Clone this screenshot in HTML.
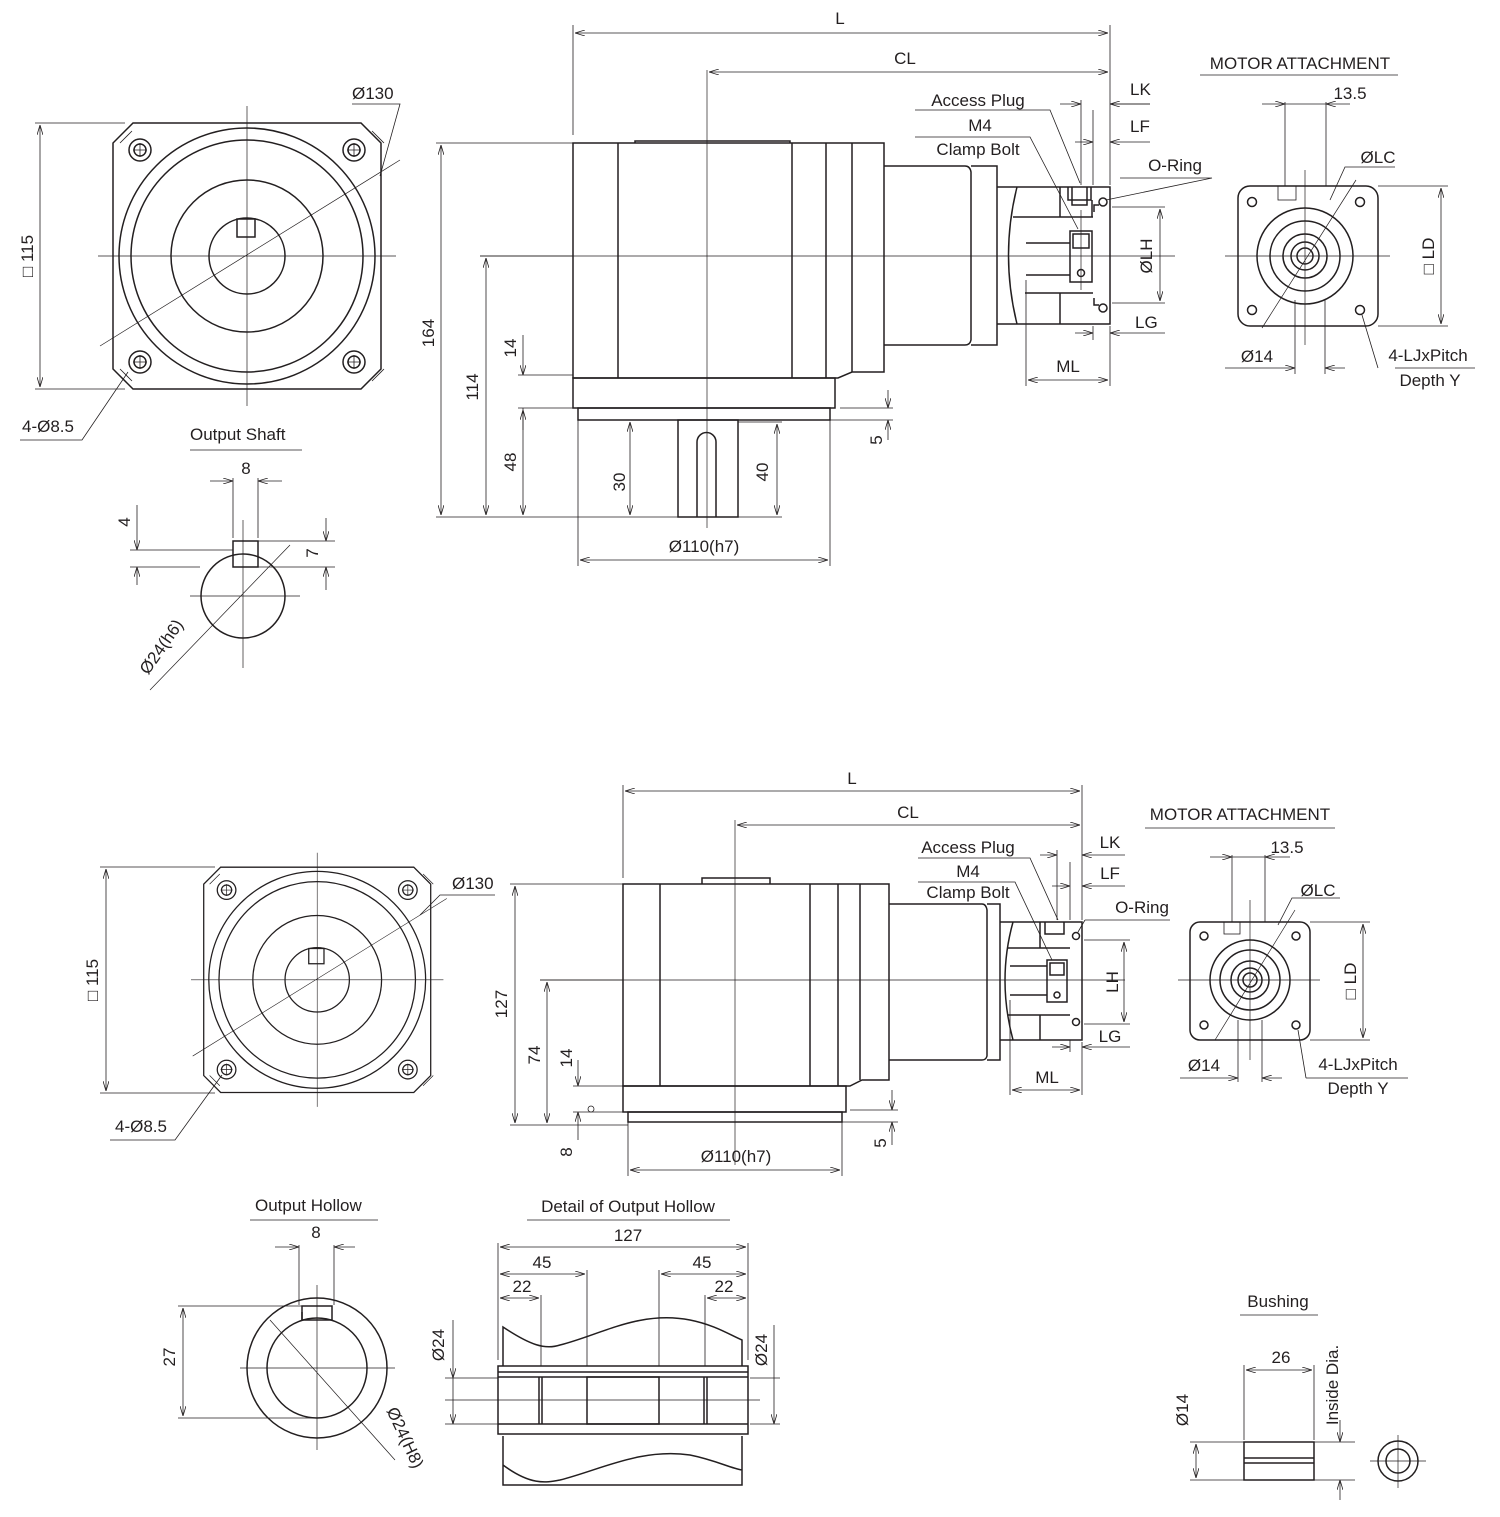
<!DOCTYPE html>
<html><head><meta charset="utf-8"><style>
html,body{margin:0;padding:0;background:#fff}
svg{display:block}
text{font-family:"Liberation Sans",sans-serif;font-size:17px;fill:#231f20}
.s{stroke:#231f20;stroke-width:1.5;fill:none}
.t{stroke:#231f20;stroke-width:0.8;fill:none}
.c{stroke:#231f20;stroke-width:0.7;fill:none}
</style></head><body>
<svg width="1500" height="1517" viewBox="0 0 1500 1517" xmlns="http://www.w3.org/2000/svg">
<defs>
<marker id="a" viewBox="0 0 10 6" refX="10" refY="3" markerWidth="10" markerHeight="6" orient="auto-start-reverse" markerUnits="userSpaceOnUse"><path d="M0,0 L10,3 L0,6" fill="none" stroke="#231f20" stroke-width="0.8"/></marker>
<g id="front">
<path class="s" d="M133,123 H361 L381,143 V369 L361,389 H133 L113,369 V143 Z"/>
<circle class="s" cx="247" cy="256" r="128"/>
<circle class="s" cx="247" cy="256" r="116"/>
<circle class="s" cx="247" cy="256" r="76"/>
<circle class="s" cx="247" cy="256" r="38"/>
<rect class="s" x="237" y="219" width="18" height="18"/>
<g class="s">
<circle cx="140" cy="150" r="11"/><circle cx="354" cy="150" r="11"/><circle cx="140" cy="362" r="11"/><circle cx="354" cy="362" r="11"/>
<circle cx="140" cy="150" r="6"/><circle cx="354" cy="150" r="6"/><circle cx="140" cy="362" r="6"/><circle cx="354" cy="362" r="6"/>
</g>
<path class="t" d="M133,150 L147,150 M140,143 V157 M347,150 H361 M354,143 V157 M133,362 H147 M140,355 V369 M347,362 H361 M354,355 V369"/>
<path class="t" d="M120,143 L132,131 M372,131 L384,143 M120,369 L132,381 M372,381 L384,369"/>
<path class="c" d="M98,256 H396 M247,106 V406 M100,346 L400,160"/>
</g>
</defs>

<!-- ============ TOP FRONT VIEW ============ -->
<use href="#front"/>
<path class="t" d="M35,123 H125 M35,389 H125" />
<line class="t" x1="40" y1="125" x2="40" y2="387" marker-start="url(#a)" marker-end="url(#a)"/>
<text transform="translate(33,256) rotate(-90)" text-anchor="middle">□ 115</text>
<path class="t" d="M352,104 H400 L380,176"/>
<text x="352" y="99">Ø130</text>
<path class="t" d="M20,440 H82 L128,372"/>
<text x="22" y="432">4-Ø8.5</text>

<!-- Output shaft -->
<text x="190" y="440">Output Shaft</text>
<line class="t" x1="190" y1="450" x2="302" y2="450"/>
<circle class="s" cx="243" cy="596" r="42"/>
<rect class="s" x="233" y="541" width="25" height="26"/>
<path class="c" d="M243,520 V668 M190,596 H300 M150,690 L290,545"/>
<path class="t" d="M233,478 V538 M258,478 V538"/>
<line class="t" x1="210" y1="481" x2="233" y2="481" marker-end="url(#a)"/><line class="t" x1="282" y1="481" x2="258" y2="481" marker-end="url(#a)"/>
<text x="246" y="474" text-anchor="middle">8</text>
<path class="t" d="M130,550 H233 M130,567 H200 M258,567 H335 M258,541 H335"/>
<line class="t" x1="137" y1="505" x2="137" y2="550" marker-end="url(#a)"/><line class="t" x1="137" y1="585" x2="137" y2="567" marker-end="url(#a)"/>
<text transform="translate(130,522) rotate(-90)" text-anchor="middle">4</text>
<line class="t" x1="326" y1="518" x2="326" y2="541" marker-end="url(#a)"/><line class="t" x1="326" y1="590" x2="326" y2="567" marker-end="url(#a)"/>
<text transform="translate(318,553) rotate(-90)" text-anchor="middle">7</text>
<text transform="translate(166,650) rotate(-55)" text-anchor="middle">Ø24(h6)</text>

<!-- ============ TOP SIDE VIEW ============ -->
<path class="s" d="M573,143 H884 V372 H852 L838,378 H573 Z"/>
<path class="s" d="M618,143 V378 M792,143 V378 M826,143 V378 M852,143 V372 M635,143 V141 H790 V143"/>
<rect class="s" x="573" y="378" width="262" height="30"/>
<rect class="s" x="578" y="408" width="252" height="12"/>
<rect class="s" x="678" y="420" width="60" height="97"/>
<path class="s" d="M697,517 V442 A9.5,9.5 0 0 1 716,442 V517"/>
<path class="s" d="M884,166 H965 Q970,166 971,172 V340 Q970,345 965,345 H884"/>
<path class="s" d="M971,166 H997 V345 H971"/>
<path class="s" d="M997,187 H1110 V324 H997 M1017,187 Q1000,255 1017,324"/>
<path class="s" d="M1013,217 H1093 M1060,187 V217 M1068,187 V200 H1091 V187 M1072,187 V205 H1087 V187"/>
<rect class="s" x="1070" y="231" width="22" height="51"/>
<rect class="s" x="1073" y="234" width="16" height="14"/>
<circle class="s" cx="1081" cy="273" r="3.5"/>
<path class="s" d="M1026,243 H1070 M1026,275 H1070 M1025,293 H1093 M1060,293 V324 M1092,200 V217"/>
<circle class="s" cx="1103" cy="202" r="4"/><circle class="s" cx="1103" cy="308" r="4"/>
<path class="s" d="M1094,212 V205 H1099 M1094,298 V305 H1099"/>
<!-- centerlines -->
<path class="c" d="M707,70 V528 M480,256 H1175 M1081,210 V290"/>
<!-- dims -->
<path class="t" d="M573,25 V135 M1110,25 V185"/>
<line class="t" x1="575" y1="33" x2="1108" y2="33" marker-start="url(#a)" marker-end="url(#a)"/>
<text x="840" y="24" text-anchor="middle">L</text>
<line class="t" x1="709" y1="72" x2="1108" y2="72" marker-start="url(#a)" marker-end="url(#a)"/>
<text x="905" y="64" text-anchor="middle">CL</text>
<path class="t" d="M1081,100 V185 M1093,110 V185"/>
<line class="t" x1="1060" y1="104" x2="1081" y2="104" marker-end="url(#a)"/><line class="t" x1="1150" y1="104" x2="1110" y2="104" marker-end="url(#a)"/>
<line class="t" x1="1110" y1="104" x2="1150" y2="104"/>
<text x="1130" y="95">LK</text>
<line class="t" x1="1075" y1="142" x2="1093" y2="142" marker-end="url(#a)"/><line class="t" x1="1150" y1="142" x2="1110" y2="142" marker-end="url(#a)"/>
<text x="1130" y="132">LF</text>
<path class="t" d="M1112,207 H1165 M1112,303 H1165"/>
<line class="t" x1="1160" y1="209" x2="1160" y2="301" marker-start="url(#a)" marker-end="url(#a)"/>
<text transform="translate(1152,256) rotate(-90)" text-anchor="middle">ØLH</text>
<path class="t" d="M1093,326 V340"/>
<line class="t" x1="1075" y1="333" x2="1093" y2="333" marker-end="url(#a)"/><line class="t" x1="1165" y1="333" x2="1110" y2="333" marker-end="url(#a)"/>
<text x="1135" y="328">LG</text>
<path class="t" d="M1026,280 V386 M1110,326 V386"/>
<line class="t" x1="1028" y1="380" x2="1108" y2="380" marker-start="url(#a)" marker-end="url(#a)"/>
<text x="1068" y="372" text-anchor="middle">ML</text>
<path class="t" d="M915,110 H1050 L1080,183 M915,137 H1030 L1078,229 M1120,178 H1212 L1106,200"/>
<text x="978" y="106" text-anchor="middle">Access Plug</text>
<text x="980" y="131" text-anchor="middle">M4</text>
<text x="978" y="155" text-anchor="middle">Clamp Bolt</text>
<text x="1175" y="171" text-anchor="middle">O-Ring</text>
<!-- left dims -->
<path class="t" d="M436,143 H632 M436,517 H678 M480,256 H573 M518,375 H573 M518,408 H573"/>
<line class="t" x1="441" y1="145" x2="441" y2="515" marker-start="url(#a)" marker-end="url(#a)"/>
<text transform="translate(434,333) rotate(-90)" text-anchor="middle">164</text>
<line class="t" x1="486" y1="258" x2="486" y2="515" marker-start="url(#a)" marker-end="url(#a)"/>
<text transform="translate(478,387) rotate(-90)" text-anchor="middle">114</text>
<line class="t" x1="523" y1="410" x2="523" y2="515" marker-start="url(#a)" marker-end="url(#a)"/>
<text transform="translate(516,462) rotate(-90)" text-anchor="middle">48</text>
<line class="t" x1="523" y1="335" x2="523" y2="375" marker-end="url(#a)"/><line class="t" x1="523" y1="430" x2="523" y2="408"/>
<text transform="translate(516,348) rotate(-90)" text-anchor="middle">14</text>
<line class="t" x1="630" y1="422" x2="630" y2="515" marker-start="url(#a)" marker-end="url(#a)"/>
<path class="t" d="M625,420 H678 M738,422 H782 M738,517 H782"/>
<text transform="translate(625,482) rotate(-90)" text-anchor="middle">30</text>
<line class="t" x1="777" y1="424" x2="777" y2="515" marker-start="url(#a)" marker-end="url(#a)"/>
<text transform="translate(768,472) rotate(-90)" text-anchor="middle">40</text>
<path class="t" d="M578,420 V566 M830,420 V566 M840,408 H893 M830,420 H893"/>
<line class="t" x1="580" y1="560" x2="828" y2="560" marker-start="url(#a)" marker-end="url(#a)"/>
<text x="704" y="552" text-anchor="middle">Ø110(h7)</text>
<line class="t" x1="888" y1="390" x2="888" y2="408" marker-end="url(#a)"/><line class="t" x1="888" y1="440" x2="888" y2="420" marker-end="url(#a)"/>
<text transform="translate(882,440) rotate(-90)" text-anchor="middle">5</text>

<!-- Motor attachment top -->
<text x="1300" y="69" text-anchor="middle">MOTOR ATTACHMENT</text>
<line class="t" x1="1200" y1="75" x2="1398" y2="75"/>
<rect class="s" x="1238" y="186" width="140" height="140" rx="12"/>
<g class="s"><circle cx="1252" cy="202" r="4.5"/><circle cx="1360" cy="202" r="4.5"/><circle cx="1252" cy="310" r="4.5"/><circle cx="1360" cy="310" r="4.5"/>
<circle cx="1305" cy="256" r="48"/><circle cx="1305" cy="256" r="35"/><circle cx="1305" cy="256" r="22"/><circle cx="1305" cy="256" r="14"/><circle cx="1305" cy="256" r="8"/></g>
<rect class="t" x="1278" y="186" width="18" height="14"/>
<path class="c" d="M1305,170 V345 M1225,256 H1390 M1262,328 L1356,180"/>
<path class="t" d="M1285,102 V186 M1326,102 V186"/>
<line class="t" x1="1262" y1="104" x2="1285" y2="104" marker-end="url(#a)"/><line class="t" x1="1350" y1="104" x2="1326" y2="104" marker-end="url(#a)"/>
<line class="t" x1="1285" y1="104" x2="1326" y2="104"/>
<text x="1350" y="99" text-anchor="middle">13.5</text>
<path class="t" d="M1378,186 H1448 M1378,326 H1448"/>
<line class="t" x1="1441" y1="188" x2="1441" y2="324" marker-start="url(#a)" marker-end="url(#a)"/>
<text transform="translate(1434,256) rotate(-90)" text-anchor="middle">□ LD</text>
<path class="t" d="M1395,167 H1345 L1330,200"/>
<text x="1378" y="163" text-anchor="middle">ØLC</text>
<path class="t" d="M1295,300 V374 M1325,300 V374"/>
<line class="t" x1="1275" y1="368" x2="1295" y2="368" marker-end="url(#a)"/><line class="t" x1="1345" y1="368" x2="1325" y2="368" marker-end="url(#a)"/>
<line class="t" x1="1225" y1="368" x2="1275" y2="368"/>
<text x="1257" y="362" text-anchor="middle">Ø14</text>
<path class="t" d="M1395,368 H1475 M1378,368 L1362,315"/>
<text x="1428" y="361" text-anchor="middle">4-LJxPitch</text>
<text x="1430" y="386" text-anchor="middle">Depth Y</text>

<!-- ============ BOTTOM FRONT VIEW ============ -->
<use href="#front" transform="translate(108,763) scale(0.847)"/>
<path class="t" d="M100,867 H215 M100,1093 H215"/>
<line class="t" x1="106" y1="869" x2="106" y2="1091" marker-start="url(#a)" marker-end="url(#a)"/>
<text transform="translate(98,980) rotate(-90)" text-anchor="middle">□ 115</text>
<path class="t" d="M420,915 L440,895 H495"/>
<text x="452" y="889">Ø130</text>
<path class="t" d="M110,1140 H175 L222,1075"/>
<text x="115" y="1132">4-Ø8.5</text>

<!-- Output Hollow -->
<text x="255" y="1211">Output Hollow</text>
<line class="t" x1="250" y1="1220" x2="378" y2="1220"/>
<circle class="s" cx="317" cy="1368" r="70"/>
<circle class="s" cx="317" cy="1368" r="50"/>
<rect class="s" x="302" y="1306" width="30" height="14" fill="#fff"/>
<path class="s" d="M302,1320 V1312"/>
<path class="c" d="M317,1285 V1450 M240,1368 H395 M270,1320 L395,1460"/>
<path class="t" d="M299,1245 V1305 M334,1245 V1305"/>
<line class="t" x1="275" y1="1247" x2="299" y2="1247" marker-end="url(#a)"/><line class="t" x1="355" y1="1247" x2="334" y2="1247" marker-end="url(#a)"/>
<text x="316" y="1238" text-anchor="middle">8</text>
<path class="t" d="M178,1306 H302 M178,1418 H317"/>
<line class="t" x1="183" y1="1308" x2="183" y2="1416" marker-start="url(#a)" marker-end="url(#a)"/>
<text transform="translate(175,1357) rotate(-90)" text-anchor="middle">27</text>
<text transform="translate(400,1440) rotate(65)" text-anchor="middle">Ø24(H8)</text>

<!-- Detail of Output Hollow -->
<text x="628" y="1212" text-anchor="middle">Detail of Output Hollow</text>
<line class="t" x1="527" y1="1220" x2="730" y2="1220"/>
<path class="s" d="M498,1366 H748 V1434 H498 Z M498,1372 H748 M498,1377 H748 M498,1424 H748"/>
<rect class="s" x="587" y="1377" width="72" height="47"/>
<path class="s" d="M539,1377 V1424 M542,1377 V1424 M704,1377 V1424 M707,1377 V1424"/>
<path class="s" d="M503,1366 V1327 C530,1345 545,1350 560,1345 C600,1335 640,1310 690,1320 C715,1325 730,1335 742,1340 V1366"/>
<path class="s" d="M503,1436 V1485 H742 V1436 M503,1465 C530,1485 545,1483 560,1480 C600,1470 640,1448 690,1455 C715,1460 730,1468 742,1470"/>
<path class="c" d="M445,1400 H760 M445,1378 H498 M445,1424 H498 M750,1378 H780 M750,1424 H780"/>
<path class="t" d="M498,1243 V1360 M748,1243 V1360 M541,1295 V1366 M587,1270 V1366 M659,1270 V1366 M705,1295 V1366"/>
<line class="t" x1="500" y1="1247" x2="746" y2="1247" marker-start="url(#a)" marker-end="url(#a)"/>
<text x="628" y="1241" text-anchor="middle">127</text>
<line class="t" x1="500" y1="1274" x2="585" y2="1274" marker-start="url(#a)" marker-end="url(#a)"/>
<text x="542" y="1268" text-anchor="middle">45</text>
<line class="t" x1="661" y1="1274" x2="746" y2="1274" marker-start="url(#a)" marker-end="url(#a)"/>
<text x="702" y="1268" text-anchor="middle">45</text>
<line class="t" x1="500" y1="1298" x2="539" y2="1298" marker-start="url(#a)" marker-end="url(#a)"/>
<text x="522" y="1292" text-anchor="middle">22</text>
<line class="t" x1="707" y1="1298" x2="746" y2="1298" marker-start="url(#a)" marker-end="url(#a)"/>
<text x="724" y="1292" text-anchor="middle">22</text>
<line class="t" x1="453" y1="1320" x2="453" y2="1378" marker-end="url(#a)"/><line class="t" x1="453" y1="1422" x2="453" y2="1424"/>
<line class="t" x1="453" y1="1424" x2="453" y2="1378" marker-start="url(#a)"/>
<text transform="translate(444,1345) rotate(-90)" text-anchor="middle">Ø24</text>
<line class="t" x1="774" y1="1325" x2="774" y2="1424" marker-end="url(#a)"/>
<text transform="translate(767,1350) rotate(-90)" text-anchor="middle">Ø24</text>

<!-- ============ BOTTOM SIDE VIEW ============ -->
<path class="s" d="M623,884 H889 V1080 H862 L850,1086 H623 Z"/>
<path class="s" d="M660,884 V1086 M810,884 V1086 M838,884 V1086 M860,884 V1080 M702,884 V878 H770 V884"/>
<rect class="s" x="623" y="1086" width="223" height="26"/>
<rect class="s" x="628" y="1112" width="214" height="10"/>
<path class="s" d="M889,904 H982 Q986,904 987,910 V1056 Q986,1060 982,1060 H889"/>
<path class="s" d="M987,904 H1000 V1060 H987 M1000,922 H1082 V1040 H1000 M1013,922 Q997,980 1013,1040"/>
<path class="s" d="M1008,948 H1070 M1040,922 V948 M1045,922 V934 H1064 V922"/>
<rect class="s" x="1047" y="960" width="20" height="42"/>
<rect class="s" x="1050" y="963" width="14" height="12"/>
<circle class="s" cx="1057" cy="995" r="3"/>
<path class="s" d="M1010,966 H1047 M1010,995 H1047 M1008,1015 H1070 M1040,1015 V1040"/>
<circle class="s" cx="1076" cy="936" r="3.5"/><circle class="s" cx="1076" cy="1022" r="3.5"/>
<path class="c" d="M735,820 V1165 M540,980 H1125"/>
<path class="t" d="M623,785 V878 M1082,785 V920"/>
<line class="t" x1="625" y1="791" x2="1080" y2="791" marker-start="url(#a)" marker-end="url(#a)"/>
<text x="852" y="784" text-anchor="middle">L</text>
<line class="t" x1="737" y1="825" x2="1080" y2="825" marker-start="url(#a)" marker-end="url(#a)"/>
<text x="908" y="818" text-anchor="middle">CL</text>
<path class="t" d="M1057,850 V920 M1070,862 V920"/>
<line class="t" x1="1040" y1="855" x2="1057" y2="855" marker-end="url(#a)"/><line class="t" x1="1125" y1="855" x2="1082" y2="855" marker-end="url(#a)"/>
<text x="1110" y="848" text-anchor="middle">LK</text>
<line class="t" x1="1052" y1="886" x2="1070" y2="886" marker-end="url(#a)"/><line class="t" x1="1125" y1="886" x2="1082" y2="886" marker-end="url(#a)"/>
<text x="1110" y="879" text-anchor="middle">LF</text>
<path class="t" d="M1084,940 H1130 M1084,1024 H1130"/>
<line class="t" x1="1124" y1="942" x2="1124" y2="1022" marker-start="url(#a)" marker-end="url(#a)"/>
<text transform="translate(1118,982) rotate(-90)" text-anchor="middle">LH</text>
<path class="t" d="M1070,1040 V1052"/>
<line class="t" x1="1052" y1="1047" x2="1070" y2="1047" marker-end="url(#a)"/><line class="t" x1="1130" y1="1047" x2="1082" y2="1047" marker-end="url(#a)"/>
<text x="1110" y="1042" text-anchor="middle">LG</text>
<path class="t" d="M1010,1000 V1095 M1082,1042 V1095"/>
<line class="t" x1="1012" y1="1090" x2="1080" y2="1090" marker-start="url(#a)" marker-end="url(#a)"/>
<text x="1047" y="1083" text-anchor="middle">ML</text>
<path class="t" d="M918,858 H1030 L1058,920 M918,882 H1015 L1052,960 M1085,920 H1170 M1085,920 L1078,932"/>
<text x="968" y="853" text-anchor="middle">Access Plug</text>
<text x="968" y="877" text-anchor="middle">M4</text>
<text x="968" y="898" text-anchor="middle">Clamp Bolt</text>
<text x="1142" y="913" text-anchor="middle">O-Ring</text>
<path class="t" d="M510,884 H700 M540,980 H623 M510,1125 H628 M573,1086 H623 M573,1112 H623"/>
<line class="t" x1="515" y1="886" x2="515" y2="1123" marker-start="url(#a)" marker-end="url(#a)"/>
<text transform="translate(507,1004) rotate(-90)" text-anchor="middle">127</text>
<line class="t" x1="547" y1="982" x2="547" y2="1123" marker-start="url(#a)" marker-end="url(#a)"/>
<text transform="translate(540,1055) rotate(-90)" text-anchor="middle">74</text>
<line class="t" x1="578" y1="1060" x2="578" y2="1086" marker-end="url(#a)"/><line class="t" x1="578" y1="1140" x2="578" y2="1112" marker-end="url(#a)"/>
<circle class="t" cx="591" cy="1109" r="3"/>
<text transform="translate(572,1058) rotate(-90)" text-anchor="middle">14</text>
<text transform="translate(572,1152) rotate(-90)" text-anchor="middle">8</text>
<path class="t" d="M628,1122 V1176 M842,1122 V1176 M850,1110 H898 M842,1122 H898"/>
<line class="t" x1="630" y1="1170" x2="840" y2="1170" marker-start="url(#a)" marker-end="url(#a)"/>
<text x="736" y="1162" text-anchor="middle">Ø110(h7)</text>
<line class="t" x1="892" y1="1090" x2="892" y2="1110" marker-end="url(#a)"/><line class="t" x1="892" y1="1145" x2="892" y2="1122" marker-end="url(#a)"/>
<text transform="translate(886,1143) rotate(-90)" text-anchor="middle">5</text>

<!-- Motor attachment bottom -->
<text x="1240" y="820" text-anchor="middle">MOTOR ATTACHMENT</text>
<line class="t" x1="1145" y1="828" x2="1335" y2="828"/>
<rect class="s" x="1190" y="922" width="120" height="118" rx="10"/>
<g class="s"><circle cx="1204" cy="936" r="4"/><circle cx="1296" cy="936" r="4"/><circle cx="1204" cy="1025" r="4"/><circle cx="1296" cy="1025" r="4"/>
<circle cx="1250" cy="980" r="40"/><circle cx="1250" cy="980" r="30"/><circle cx="1250" cy="980" r="19"/><circle cx="1250" cy="980" r="12"/><circle cx="1250" cy="980" r="7"/></g>
<rect class="t" x="1224" y="922" width="16" height="12"/>
<path class="c" d="M1250,900 V1060 M1178,980 H1320 M1215,1040 L1295,910"/>
<path class="t" d="M1232,855 V922 M1265,855 V922"/>
<line class="t" x1="1210" y1="857" x2="1232" y2="857" marker-end="url(#a)"/><line class="t" x1="1290" y1="857" x2="1265" y2="857" marker-end="url(#a)"/>
<line class="t" x1="1232" y1="857" x2="1265" y2="857"/>
<text x="1287" y="853" text-anchor="middle">13.5</text>
<path class="t" d="M1310,922 H1370 M1310,1040 H1370"/>
<line class="t" x1="1363" y1="924" x2="1363" y2="1038" marker-start="url(#a)" marker-end="url(#a)"/>
<text transform="translate(1356,981) rotate(-90)" text-anchor="middle">□ LD</text>
<path class="t" d="M1340,898 H1292 L1278,925"/>
<text x="1318" y="896" text-anchor="middle">ØLC</text>
<path class="t" d="M1238,1020 V1082 M1262,1020 V1082"/>
<line class="t" x1="1218" y1="1078" x2="1238" y2="1078" marker-end="url(#a)"/><line class="t" x1="1282" y1="1078" x2="1262" y2="1078" marker-end="url(#a)"/>
<line class="t" x1="1180" y1="1078" x2="1218" y2="1078"/>
<text x="1204" y="1071" text-anchor="middle">Ø14</text>
<path class="t" d="M1306,1078 H1408 M1306,1078 L1298,1030"/>
<text x="1358" y="1070" text-anchor="middle">4-LJxPitch</text>
<text x="1358" y="1094" text-anchor="middle">Depth Y</text>

<!-- Bushing -->
<text x="1278" y="1307" text-anchor="middle">Bushing</text>
<line class="t" x1="1240" y1="1315" x2="1318" y2="1315"/>
<rect class="s" x="1244" y="1442" width="70" height="38"/>
<path class="s" d="M1244,1458 H1314 M1244,1463 H1314"/>
<path class="t" d="M1244,1365 V1440 M1314,1365 V1440 M1190,1442 H1244 M1190,1480 H1244 M1314,1442 H1355 M1314,1480 H1355"/>
<line class="t" x1="1246" y1="1370" x2="1312" y2="1370" marker-start="url(#a)" marker-end="url(#a)"/>
<text x="1281" y="1363" text-anchor="middle">26</text>
<line class="t" x1="1196" y1="1444" x2="1196" y2="1478" marker-start="url(#a)" marker-end="url(#a)"/>
<text transform="translate(1188,1410) rotate(-90)" text-anchor="middle">Ø14</text>
<line class="t" x1="1340" y1="1420" x2="1340" y2="1442" marker-end="url(#a)"/><line class="t" x1="1340" y1="1500" x2="1340" y2="1480" marker-end="url(#a)"/>
<text transform="translate(1338,1385) rotate(-90)" text-anchor="middle">Inside Dia.</text>
<circle class="s" cx="1398" cy="1461" r="20"/>
<circle class="s" cx="1398" cy="1461" r="12"/>
<path class="c" d="M1370,1461 H1426 M1398,1435 V1488"/>
</svg>
</body></html>
